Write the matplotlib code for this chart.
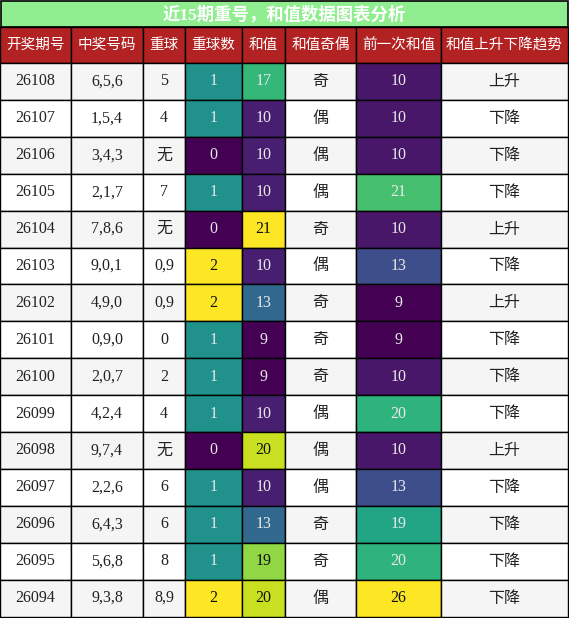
import matplotlib.pyplot as plt
from matplotlib.patches import Rectangle
from matplotlib.colors import Normalize
import matplotlib as mpl

# table data
title = '近15期重号，和值数据图表分析'
headers = ['开奖期号', '中奖号码', '重球', '重球数', '和值', '和值奇偶', '前一次和值', '和值上升下降趋势']
issues = ['26108', '26107', '26106', '26105', '26104', '26103', '26102', '26101',
          '26100', '26099', '26098', '26097', '26096', '26095', '26094']
numbers = ['6,5,6', '1,5,4', '3,4,3', '2,1,7', '7,8,6', '9,0,1', '4,9,0', '0,9,0',
           '2,0,7', '4,2,4', '9,7,4', '2,2,6', '6,4,3', '5,6,8', '9,3,8']
repeat = ['5', '4', '无', '7', '无', '0,9', '0,9', '0', '2', '4', '无', '6', '6', '8', '8,9']
repeat_cnt = [1, 1, 0, 1, 0, 2, 2, 1, 1, 1, 0, 1, 1, 1, 2]
sums = [17, 10, 10, 10, 21, 10, 13, 9, 9, 10, 20, 10, 13, 19, 20]
parity = ['奇', '偶', '偶', '偶', '奇', '偶', '奇', '奇', '奇', '偶', '偶', '偶', '奇', '奇', '偶']
prev_sums = [10, 10, 10, 21, 10, 13, 9, 9, 10, 20, 10, 13, 19, 20, 26]
trend = ['上升', '下降', '下降', '下降', '上升', '下降', '上升', '下降',
         '下降', '下降', '上升', '下降', '下降', '下降', '下降']

col_w = [71, 72, 42, 57, 43, 71, 85, 127]
title_h = 27
head_h = 36
row_h = 36.9

W, H = 569, 618
fig = plt.figure(figsize=(W / 100, H / 100), dpi=100)
ax = fig.add_axes([0, 0, 1, 1])
ax.set_xlim(0, W)
ax.set_ylim(H, 0)
ax.axis('off')

serif = ['Liberation Serif', 'Noto Sans CJK SC']
cjk = ['Noto Sans CJK SC', 'DejaVu Sans']
cmap = mpl.colormaps['viridis']

xs = [0]
for w in col_w:
    xs.append(xs[-1] + w)

# title bar
ax.add_patch(Rectangle((1, 1), xs[-1] - 1, title_h - 1, facecolor='#90ee90',
                       edgecolor='black', lw=1.2))
ax.text((xs[-1] + 1) / 2, title_h / 2 + 1, title, ha='center', va='center',
        color='white', fontsize=12.5, fontweight='bold', family=serif)

# header
for i, h in enumerate(headers):
    ax.add_patch(Rectangle((xs[i], title_h), col_w[i], head_h, facecolor='#b22222',
                           edgecolor='black', lw=1))
    ax.text(xs[i] + col_w[i] / 2, title_h + head_h / 2, h, ha='center', va='center',
            color='white', fontsize=10.5, family=cjk)

norms = {3: Normalize(min(repeat_cnt), max(repeat_cnt)),
         4: Normalize(min(sums), max(sums)),
         6: Normalize(min(prev_sums), max(prev_sums))}

for r in range(len(issues)):
    y0 = title_h + head_h + r * row_h
    base = '#f5f5f5' if r % 2 == 0 else 'white'
    vals = [issues[r], numbers[r], repeat[r], repeat_cnt[r], sums[r],
            parity[r], prev_sums[r], trend[r]]
    for c, v in enumerate(vals):
        fc = base
        tc = '#222222'
        if c in norms:
            t = norms[c](v)
            fc = cmap(t)
            tc = '#e8e8e8' if t < 0.75 else '#111111'
        ax.add_patch(Rectangle((xs[c], y0), col_w[c], row_h, facecolor=fc,
                               edgecolor='black', lw=1))
        fam = cjk if c in (5, 7) else serif
        fs = 11.5
        ax.text(xs[c] + col_w[c] / 2, y0 + row_h / 2, str(v), ha='center',
                va='center', color=tc, fontsize=fs, family=fam)

fig.savefig('out.png', dpi=100)
